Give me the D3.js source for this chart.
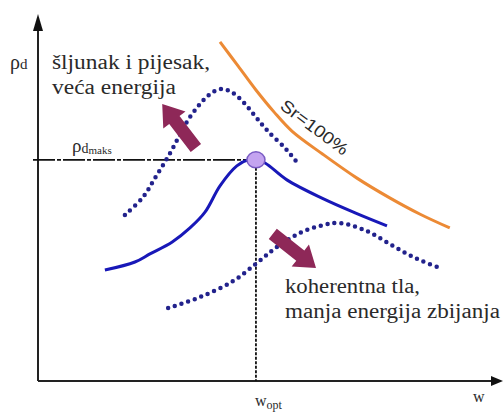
<!DOCTYPE html>
<html>
<head>
<meta charset="utf-8">
<script src="https://cdn.jsdelivr.net/npm/d3@7"></script>
<style>
  body { margin: 0; background: #fff; }
</style>
</head>
<body>
<div id="caja"></div>
<script>
// krivulje zbijanja (shematski, w i rho_d u relativnim jedinicama 0-100)
var sr100 = [
  [40.0, 96.6], [44.0, 89.7], [47.9, 82.9], [51.9, 76.6], [55.8, 71.2],
  [62.6, 64.6], [70.1, 57.8], [77.4, 52.1], [84.0, 47.5], [90.5, 43.6]
];
var standard = [
  [14.7, 31.6], [21.3, 33.9], [24.6, 36.2], [29.5, 39.6], [33.4, 43.6],
  [36.7, 48.1], [40.0, 55.6], [43.7, 61.3], [46.2, 63.0], [47.9, 63.0],
  [49.9, 62.1], [54.7, 57.3], [62.4, 52.1], [69.7, 47.9], [76.7, 44.2]
];
var veca = [
  [19.1, 47.3], [23.1, 52.4], [25.7, 57.8], [28.4, 63.5], [30.8, 69.2],
  [32.7, 73.8], [35.6, 78.9], [38.2, 82.1], [40.4, 83.2], [42.6, 82.3],
  [45.1, 79.5], [47.7, 75.5], [50.3, 71.5], [54.7, 65.8], [57.4, 61.5]
];
var manja = [
  [28.6, 20.8], [35.6, 23.9], [42.9, 28.5], [48.1, 33.6], [52.5, 38.2],
  [57.6, 42.2], [62.6, 44.4], [66.4, 45.0], [72.3, 42.7], [78.0, 38.5],
  [83.3, 34.8], [88.4, 32.2]
];
var optimum = [47.9, 63.0];          // w_opt, rho_d maks
var strelice = [                      // [rep, vrh]
  [[34.7, 66.4], [27.3, 78.9]],
  [[51.6, 41.9], [61.1, 32.2]]
];
var natpisGore = ["šljunak i pijesak,", "veća energija"];
var natpisDolje = ["koherentna tla,", "manja energija zbijanja"];

var w = 504, h = 412;
var svg = d3.select("#caja").append("svg")
  .attr("width", w).attr("height", h)
  .style("background", "#fff");

var x = d3.scaleLinear().domain([0, 100]).range([38, 493]);
var y = d3.scaleLinear().domain([0, 100]).range([381, 30]);

var serif = "'Liberation Serif', 'DejaVu Serif', 'Times New Roman', Times, serif";
var linija = d3.line().x(function(d) { return x(d[0]); })
  .y(function(d) { return y(d[1]); })
  .curve(d3.curveCatmullRom.alpha(0.5));

// osi
svg.append("path")
  .attr("d", "M" + x(0) + "," + y(0) + "H" + (x(100)) + "M" + x(0) + "," + y(0) + "V" + (y(100) - 2))
  .attr("stroke", "#222").attr("stroke-width", 2).attr("fill", "none");
svg.append("path")
  .attr("d", "M" + x(0) + "," + (y(100) - 16) + "l-5,17h10z")
  .attr("fill", "#111");
svg.append("path")
  .attr("d", "M" + (x(100) + 10) + "," + y(0) + "l-12,-5v10z")
  .attr("fill", "#111");

// isprekidane linije optimuma
svg.append("line")
  .attr("x1", 33).attr("x2", x(optimum[0]) - 8)
  .attr("y1", y(optimum[1])).attr("y2", y(optimum[1]))
  .attr("stroke", "#111").attr("stroke-width", 1.6)
  .attr("stroke-dasharray", "22 2 4 2");
svg.append("line")
  .attr("x1", x(optimum[0])).attr("x2", x(optimum[0]))
  .attr("y1", y(optimum[1]) + 8).attr("y2", y(0))
  .attr("stroke", "#111").attr("stroke-width", 1.8)
  .attr("stroke-dasharray", "3 1.5");

// krivulje
svg.append("path").attr("d", linija(sr100))
  .attr("fill", "none").attr("stroke", "#ec8a35").attr("stroke-width", 3);
svg.append("path").attr("d", linija(standard))
  .attr("fill", "none").attr("stroke", "#1818b8").attr("stroke-width", 3)
  .attr("stroke-linejoin", "round");
[veca, manja].forEach(function(s) {
  svg.append("path").attr("d", linija(s))
    .attr("fill", "none").attr("stroke", "#22228c").attr("stroke-width", 4.5)
    .attr("stroke-linecap", "round").attr("stroke-dasharray", "0 7");
});

svg.append("ellipse")
  .attr("cx", x(optimum[0])).attr("cy", y(optimum[1]))
  .attr("rx", 9).attr("ry", 8)
  .attr("fill", "#c4a4f0").attr("stroke", "#7a5cc4").attr("stroke-width", 1.5);

// strelice
strelice.forEach(function(s) {
  var x0 = x(s[0][0]), y0 = y(s[0][1]), x1 = x(s[1][0]), y1 = y(s[1][1]);
  var L = Math.hypot(x1 - x0, y1 - y0);
  var ang = Math.atan2(y1 - y0, x1 - x0) * 180 / Math.PI;
  var hl = 20, sw = 6.5, hw = 14;
  svg.append("path")
    .attr("d", "M0," + (-sw) + "H" + (L - hl) + "V" + (-hw) + "L" + L + ",0L" + (L - hl) + "," + hw +
      "V" + sw + "H0Z")
    .attr("transform", "translate(" + x0 + "," + y0 + ") rotate(" + ang + ")")
    .attr("fill", "#8e2858");
});

// natpisi
svg.selectAll(".gore").data(natpisGore).enter().append("text")
  .attr("x", 52).attr("y", function(d, i) { return 69 + i * 25; })
  .attr("textLength", function(d, i) { return [158, 124][i]; })
  .attr("lengthAdjust", "spacingAndGlyphs")
  .attr("font-family", serif).attr("font-size", 20).attr("fill", "#2a2a2a")
  .text(function(d) { return d; });
svg.selectAll(".dolje").data(natpisDolje).enter().append("text")
  .attr("x", 285).attr("y", function(d, i) { return 293 + i * 25; })
  .attr("textLength", function(d, i) { return [135, 215][i]; })
  .attr("lengthAdjust", "spacingAndGlyphs")
  .attr("font-family", serif).attr("font-size", 20).attr("fill", "#2a2a2a")
  .text(function(d) { return d; });

var rd = svg.append("text").attr("x", 10).attr("y", 69)
  .attr("font-family", serif).attr("font-size", 20).attr("fill", "#2a2a2a");
rd.append("tspan").text("ρ");
rd.append("tspan").attr("font-size", 15).text("d");

var rm = svg.append("text").attr("x", 72).attr("y", 152)
  .attr("font-family", serif).attr("font-size", 19).attr("fill", "#2a2a2a");
rm.append("tspan").text("ρ");
rm.append("tspan").attr("font-size", 14).attr("dy", 1).text("d");
rm.append("tspan").attr("font-size", 11).attr("dy", 1).text("maks");

var wo = svg.append("text").attr("x", x(optimum[0]) - 1).attr("y", 406)
  .attr("font-family", serif).attr("font-size", 16).attr("fill", "#2a2a2a");
wo.append("tspan").text("w");
wo.append("tspan").attr("font-size", 12).attr("dy", 3).text("opt");

svg.append("text").attr("x", 473).attr("y", 402)
  .attr("font-family", serif).attr("font-size", 16).attr("fill", "#2a2a2a")
  .text("w");

svg.append("text")
  .attr("transform", "translate(279,108) rotate(37)")
  .attr("textLength", 80).attr("lengthAdjust", "spacingAndGlyphs")
  .attr("font-family", "'Liberation Sans Narrow', 'Liberation Sans', Arial, sans-serif")
  .attr("font-size", 17).attr("fill", "#2a2a2a")
  .text("Sr=100%");
</script>
</body>
</html>
